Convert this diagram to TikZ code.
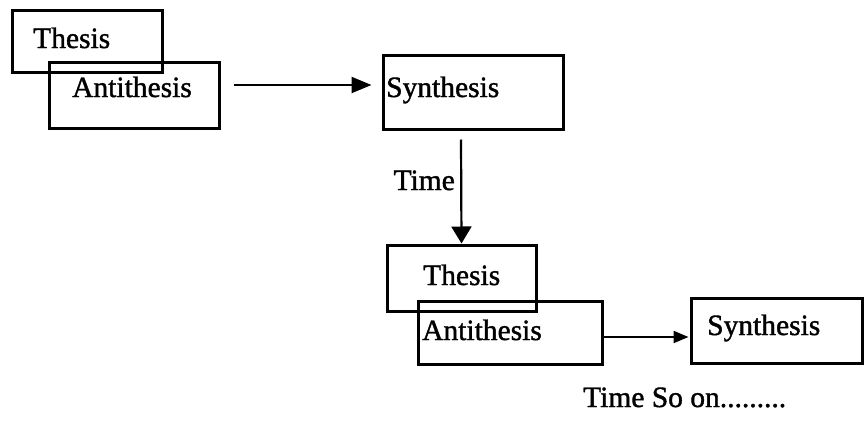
\documentclass[tikz,border=0pt]{standalone}
\usepackage{fontspec}
\setmainfont{Liberation Serif}[FakeBold=1.3]
\usetikzlibrary{arrows.meta,calc}
\begin{document}
\begin{tikzpicture}[x=1pt,y=-1pt,
  box/.style={draw,line width=3pt,inner sep=0pt,minimum width=#1},
  lbl/.style={inner sep=0pt,anchor=base west,font=\fontsize{29.5}{36}\selectfont},
  arr/.style={line width=2.2pt}]
\useasboundingbox (0,0) rectangle (864,434);
% boxes
\node[box=150pt,minimum height=62pt] (T1) at (87,41) {};
\node[box=170pt,minimum height=66pt] (A1) at (134,95) {};
\node[box=180pt,minimum height=74pt] (S1) at (473,92) {};
\node[box=149pt,minimum height=66pt] (T2) at (461.5,278) {};
\node[box=184pt,minimum height=63pt] (A2) at (510,332.5) {};
\node[box=171pt,minimum height=65pt] (S2) at (776.5,330.5) {};
% labels
\node[lbl] (t1) at (33,48) {Thesis};
\node[lbl] (a1) at (72,97) {Antithesis};
\node[lbl] (s1) at (386,97) {Synthesis};
\node[lbl,anchor=base east] (time) at (455,190) {Time};
\node[lbl] (t2) at (423,285) {Thesis};
\node[lbl] (a2) at (422,340) {Antithesis};
\node[lbl] (s2) at (707,335) {Synthesis};
\node[lbl] (so) at (583,407) {Time So on.........};
% arrows
\draw[arr,-{Triangle[length=20pt,width=16pt]}] ($(A1.east)+(13,-10)$) -- ($(S1.west)+(-10,-7)$);
\draw[arr,-{Triangle[length=17pt,width=20pt]}] ($(S1.south)+(-12,9)$) -- (T2.north);
\draw[arr,-{Triangle[length=15pt,width=12pt]}] ($(A2.east)+(0,4.5)$) -- ($(S2.west)+(-1,6.5)$);
\end{tikzpicture}
\end{document}
